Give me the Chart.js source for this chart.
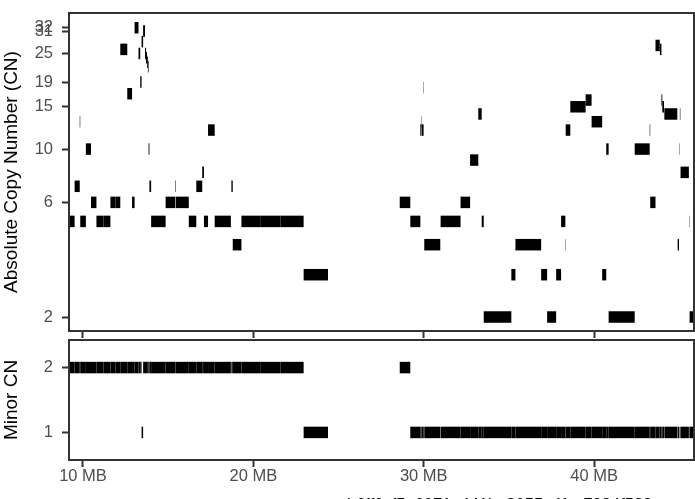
<!DOCTYPE html>
<html>
<head>
<meta charset="utf-8">
<script src="https://cdn.jsdelivr.net/npm/chart.js@4.4.1/dist/chart.umd.min.js"></script>
<style>
  html, body { margin: 0; padding: 0; background: #fff; }
  #wrap { position: relative; width: 695px; height: 499px; overflow: hidden; }
  #wrap canvas { position: absolute; left: 0; top: 0; }
  #sample {
    position: absolute; left: 347px; top: 495px;
    font-family: "Liberation Sans", Arial, sans-serif; font-size: 16.5px; line-height: 18px;
    color: #000; white-space: nowrap;
  }
</style>
</head>
<body>
<div id="wrap">
  <canvas id="cnTop" width="695" height="499"></canvas>
  <canvas id="cnMinor" width="695" height="499"></canvas>
  <div id="sample">b6ff0cf5_6071_441b_8055_4fce7984f589</div>
</div>
<script>
// segments along the chromosome (MB), total CN and minor CN of each
const segStart = [9.18, 9.51, 9.81, 9.84, 10.17, 10.47, 10.79, 11.2, 11.61, 11.9,
  12.19, 12.6, 12.88, 13.03, 13.26, 13.36, 13.44, 13.53, 13.64, 13.7,
  13.76, 13.81, 13.85, 13.9, 14.0, 14.85, 15.42, 15.45, 16.21, 16.65,
  17.0, 17.1, 17.34, 17.73, 18.71, 18.79, 19.3, 20.4, 21.6, 22.95,
  28.59, 29.21, 29.8, 29.86, 29.88, 29.99, 30.03, 30.99, 32.16, 32.72,
  33.2, 33.4, 33.52, 35.14, 35.38, 36.89, 37.24, 37.77, 38.06, 38.31,
  38.33, 38.6, 39.5, 39.85, 40.47, 40.71, 40.85, 42.38, 43.26, 43.29,
  43.6, 43.86, 43.95, 44.0, 44.12, 44.9, 45.0, 45.03, 45.07, 45.57, 45.6];
const segEnd = [9.51, 9.81, 9.84, 10.17, 10.47, 10.79, 11.2, 11.61, 11.9, 12.19,
  12.6, 12.88, 13.03, 13.26, 13.36, 13.44, 13.53, 13.64, 13.7, 13.76,
  13.81, 13.85, 13.9, 14.0, 14.85, 15.42, 15.45, 16.21, 16.65, 17.0,
  17.1, 17.34, 17.73, 18.68, 18.79, 19.3, 20.4, 21.6, 22.95, 24.38,
  29.21, 29.8, 29.86, 29.88, 29.99, 30.01, 30.97, 32.16, 32.72, 33.2,
  33.4, 33.52, 35.14, 35.38, 36.89, 37.24, 37.77, 38.06, 38.31, 38.33,
  38.6, 39.5, 39.85, 40.47, 40.71, 40.85, 42.38, 43.26, 43.29, 43.6,
  43.85, 43.95, 44.0, 44.1, 44.88, 44.98, 45.02, 45.06, 45.56, 45.59, 45.86];
const totalCN = [5, 7, 13, 5, 10, 6, 5, 5, 6, 6,
  26, 17, 6, 32, 25, 19, 28, 31, 25, 24,
  23, 22, 10, 7, 5, 6, 7, 6, 5, 7,
  8, 5, 12, 5, 7, 4, 5, 5, 5, 3,
  6, 5, 12, 13, 12, 18, 4, 5, 6, 9,
  14, 5, 2, 3, 4, 3, 2, 3, 5, 4,
  12, 15, 16, 13, 3, 10, 2, 10, 12, 6,
  27, 26, 16, 15, 14, 4, 10, 14, 8, 5, 2];
const minorCN = [2, 2, 2, 2, 2, 2, 2, 2, 2, 2,
  2, 2, 2, 2, 2, 2, 1, 2, 2, 2,
  2, 2, 2, 2, 2, 2, 2, 2, 2, 2,
  2, 2, 2, 2, 2, 2, 2, 2, 2, 1,
  2, 1, 1, 1, 1, 1, 1, 1, 1, 1,
  1, 1, 1, 1, 1, 1, 1, 1, 1, 1,
  1, 1, 1, 1, 1, 1, 1, 1, 1, 1,
  1, 1, 1, 1, 1, 1, 1, 1, 1, 1, 1];

const xTicks = [10, 20, 30, 40];
const cnTicks = [2, 6, 10, 15, 19, 25, 31, 32];
const minorTicks = [1, 2];

const ink = '#000000';
const frame = '#333333';
const tickText = '#4d4d4d';
const family = '"Liberation Sans", Arial, Helvetica, sans-serif';

// every segment becomes two points plus a null so the line breaks between them
function segmentPoints(levels) {
  const pts = [];
  segStart.forEach((s, i) => {
    pts.push({ x: s, y: levels[i] }, { x: segEnd[i], y: levels[i] }, { x: segEnd[i], y: null });
  });
  return pts;
}

const panelFrame = {
  id: 'panelFrame',
  afterDatasetsDraw(chart) {
    const { ctx, chartArea: a } = chart;
    ctx.save();
    ctx.strokeStyle = frame;
    ctx.lineWidth = 2;
    ctx.strokeRect(a.left, a.top, a.right - a.left, a.bottom - a.top);
    ctx.restore();
  }
};

const tickGrid = { drawOnChartArea: false, drawTicks: true, tickLength: 7, tickWidth: 2, tickColor: frame };

function segDataset(levels) {
  return {
    data: segmentPoints(levels),
    borderColor: ink,
    borderWidth: 11.5,
    borderCapStyle: 'butt',
    pointRadius: 0,
    stepped: true,
    segment: { borderColor: ink },
  };
}

function xScale(showLabels, height) {
  return {
    type: 'linear', bounds: 'data', min: 9.18, max: 45.86,
    afterBuildTicks: s => { s.ticks = xTicks.map(v => ({ value: v })); },
    afterFit: s => { s.height = height; s.paddingLeft = 0; s.paddingRight = 0; },
    ticks: {
      padding: 0, color: tickText, font: { family, size: 16.5 },
      callback: v => showLabels ? v + ' MB' : ''
    },
    grid: tickGrid,
    border: { display: false }
  };
}

// CHART 1 — total copy number, log axis
new Chart(document.getElementById('cnTop'), {
  type: 'line',
  data: { datasets: [segDataset(totalCN)] },
  options: {
    responsive: false, animation: false, events: [],
    layout: { autoPadding: false, padding: { left: 0, top: 13, right: 1, bottom: 160 } },
    plugins: { legend: { display: false }, tooltip: { enabled: false } },
    scales: {
      x: xScale(false, 8),
      y: {
        type: 'logarithmic', bounds: 'data', min: 1.749, max: 36.85,
        afterBuildTicks: s => { s.ticks = cnTicks.map(v => ({ value: v })); },
        afterFit: s => { s.width = 69; s.paddingTop = 0; s.paddingBottom = 0; },
        ticks: { autoSkip: false, padding: 9, color: tickText, font: { family, size: 16.5 }, callback: v => String(v) },
        grid: tickGrid,
        border: { display: false },
        title: { display: true, text: 'Absolute Copy Number (CN)', color: '#000', font: { family, size: 19 }, padding: 0 }
      }
    }
  },
  plugins: [panelFrame]
});

// CHART 2 — minor copy number
new Chart(document.getElementById('cnMinor'), {
  type: 'line',
  data: { datasets: [segDataset(minorCN)] },
  options: {
    responsive: false, animation: false, events: [],
    layout: { autoPadding: false, padding: { left: 0, top: 340, right: 1, bottom: 9 } },
    plugins: { legend: { display: false }, tooltip: { enabled: false } },
    scales: {
      x: xScale(true, 30),
      y: {
        type: 'linear', bounds: 'data', min: 0.575, max: 2.425,
        afterBuildTicks: s => { s.ticks = minorTicks.map(v => ({ value: v })); },
        afterFit: s => { s.width = 69; s.paddingTop = 0; s.paddingBottom = 0; },
        ticks: { autoSkip: false, padding: 9, color: tickText, font: { family, size: 16.5 }, callback: v => String(v) },
        grid: tickGrid,
        border: { display: false },
        title: { display: true, text: 'Minor CN', color: '#000', font: { family, size: 19 }, padding: 0 }
      }
    }
  },
  plugins: [panelFrame]
});
</script>
</body>
</html>
